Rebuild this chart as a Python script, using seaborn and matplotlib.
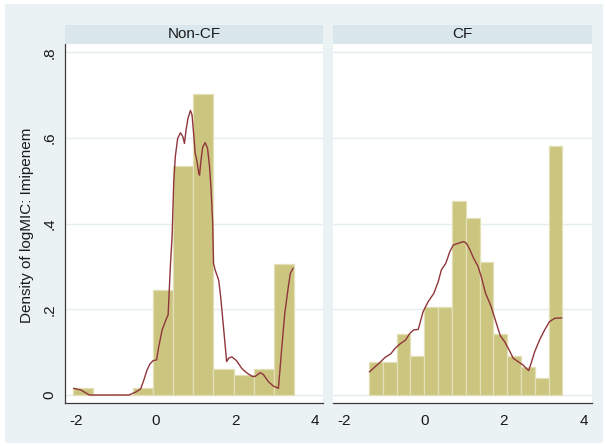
import numpy as np
import pandas as pd
import matplotlib
matplotlib.use("Agg")
import matplotlib.pyplot as plt
import seaborn as sns
from matplotlib.patches import Rectangle

# ---------------- data ----------------
panels = ["Non-CF", "CF"]

noncf_bin_start = -2.079
noncf_bin_width = 0.5041
noncf_density = [0.0156, 0.0, 0.0, 0.0156, 0.245, 0.534, 0.702, 0.0615, 0.046, 0.0615, 0.306]

cf_bin_start = -1.386
cf_bin_width = 0.3466
cf_density = [0.0778, 0.0778, 0.142, 0.091, 0.206, 0.206, 0.452, 0.412, 0.310,
              0.142, 0.091, 0.0646, 0.039, 0.581]

noncf_kde_x = [-2.065, -1.88, -1.67, -0.675, -0.50, -0.38, -0.30, -0.22, -0.15, -0.07,
               0.02, 0.075, 0.16, 0.27, 0.31, 0.37, 0.41, 0.45, 0.49, 0.55, 0.62,
               0.68, 0.72, 0.76, 0.81, 0.87, 0.91, 0.95, 0.99, 1.03, 1.08, 1.10,
               1.13, 1.18, 1.24, 1.30, 1.35, 1.39, 1.43, 1.45, 1.49, 1.58, 1.63,
               1.70, 1.78, 1.83, 1.91, 2.03, 2.16, 2.28, 2.41, 2.49, 2.62, 2.70,
               2.83, 2.95, 3.08, 3.12, 3.16, 3.24, 3.33, 3.38, 3.45]
noncf_kde_y = [0.0156, 0.0117, 0.0, 0.0, 0.007, 0.014, 0.035, 0.058, 0.072, 0.080,
               0.082, 0.113, 0.152, 0.179, 0.187, 0.307, 0.370, 0.494, 0.556, 0.599, 0.612,
               0.603, 0.587, 0.618, 0.646, 0.664, 0.654, 0.611, 0.564, 0.548, 0.517, 0.513,
               0.544, 0.579, 0.589, 0.576, 0.533, 0.478, 0.401, 0.307, 0.292, 0.268, 0.229,
               0.159, 0.078, 0.086, 0.089, 0.080, 0.062, 0.052, 0.044, 0.043, 0.052, 0.048,
               0.031, 0.021, 0.0156, 0.060, 0.105, 0.191, 0.253, 0.284, 0.296]

cf_kde_x = [-1.375, -1.23, -1.11, -0.98, -0.84, -0.73, -0.61, -0.47, -0.36, -0.26,
            -0.15, -0.03, 0.10, 0.24, 0.35, 0.43, 0.54, 0.64, 0.73, 0.85, 0.99,
            1.06, 1.14, 1.24, 1.35, 1.43, 1.54, 1.68, 1.81, 1.91, 2.02, 2.13,
            2.23, 2.35, 2.48, 2.56, 2.62, 2.68, 2.77, 2.89, 3.02, 3.14, 3.27, 3.45]
cf_kde_y = [0.054, 0.066, 0.076, 0.088, 0.096, 0.109, 0.119, 0.128, 0.144, 0.152,
            0.153, 0.194, 0.218, 0.237, 0.264, 0.292, 0.307, 0.334, 0.350, 0.354, 0.358,
            0.354, 0.340, 0.319, 0.300, 0.276, 0.237, 0.206, 0.167, 0.138, 0.124, 0.105,
            0.086, 0.078, 0.070, 0.062, 0.057, 0.074, 0.101, 0.128, 0.152, 0.171, 0.179, 0.180]

x_ticks = [-2, 0, 2, 4]
x_tick_labels = ["-2", "0", "2", "4"]
y_ticks = [0, 0.2, 0.4, 0.6, 0.8]
y_tick_labels = ["0", ".2", ".4", ".6", ".8"]
y_title = "Density of logMIC: Imipenem"

# ---------------- style ----------------
sns.set_style("white")
plt.rcParams["font.family"] = ["Liberation Sans", "DejaVu Sans"]
plt.rcParams["axes.unicode_minus"] = False

BG = "#EAF2F3"
STRIP = "#D9E6EB"
GRID = "#E4EDEF"
BAR = "#CCC580"
BAR_EDGE = "#E3DFB6"
LINE = "#8F353B"
TXT = "#1a1a1a"
AX = "#3a3a3a"
FS = 11

W, H = 606, 446
fig = plt.figure(figsize=(W / 100, H / 100), dpi=100, facecolor="white")


def rect(l, t, r, b):
    return [l / W, 1 - b / H, (r - l) / W, (b - t) / H]


fig.patches.append(Rectangle((5 / W, 1 - 443 / H), 598 / W, 439 / H,
                             transform=fig.transFigure, facecolor=BG,
                             edgecolor="none", zorder=-10))

XLIM = (-2.28, 4.20)
YLIM = (-(403 - 395) / 428.5, (395 - 43.5) / 428.5)

data = {
    "Non-CF": (noncf_bin_start, noncf_bin_width, noncf_density, noncf_kde_x, noncf_kde_y),
    "CF": (cf_bin_start, cf_bin_width, cf_density, cf_kde_x, cf_kde_y),
}
lefts = {"Non-CF": (65, 323), "CF": (333.3, 591.7)}

for i, name in enumerate(panels):
    start, width, dens, kx, ky = data[name]
    n = len(dens)
    edges = [float(start + width * k) for k in range(n + 1)]
    centers = [(edges[k] + edges[k + 1]) / 2 for k in range(n)]
    hist_df = pd.DataFrame({"x": centers, "w": dens})
    kde_df = pd.DataFrame({"x": kx, "y": ky})

    l, r = lefts[name]
    ax = fig.add_axes(rect(l, 43.5, r, 403))
    ax.set_facecolor("white")
    ax.set_axisbelow(True)
    for yv in y_ticks:
        ax.axhline(yv, color=GRID, lw=1.0, zorder=0)

    sns.histplot(data=hist_df, x="x", weights="w", bins=edges, stat="count",
                 color=BAR, edgecolor=BAR_EDGE, linewidth=0.9, alpha=1.0, ax=ax, zorder=2)
    sns.lineplot(data=kde_df, x="x", y="y", color=LINE, lw=1.0, ax=ax, zorder=3,
                 sort=False)

    ax.set_xlim(*XLIM)
    ax.set_ylim(*YLIM)
    ax.set_xlabel("")
    ax.set_ylabel("")
    ax.set_xticks(x_ticks)
    ax.set_xticklabels(x_tick_labels, fontsize=FS, color=TXT)
    ax.tick_params(axis="x", direction="out", length=5, width=0.8, color=AX, pad=3)
    for s in ["top", "right"]:
        ax.spines[s].set_visible(False)
    ax.spines["bottom"].set_color(AX)
    ax.spines["bottom"].set_linewidth(0.9)
    if i == 0:
        ax.spines["left"].set_color(AX)
        ax.spines["left"].set_linewidth(0.9)
        ax.set_yticks(y_ticks)
        ax.set_yticklabels(y_tick_labels, fontsize=FS, color=TXT)
        ax.tick_params(axis="y", direction="out", length=5, width=0.8, color=AX, pad=1)
        for lbl in ax.get_yticklabels():
            lbl.set_rotation(90)
            lbl.set_va("center")
            lbl.set_ha("right")
    else:
        ax.spines["left"].set_visible(False)
        ax.set_yticks(y_ticks)
        ax.set_yticklabels([])
        ax.tick_params(axis="y", length=0)

    # strip header
    sax = fig.add_axes(rect(l, 25, r, 43.5))
    sax.set_facecolor(STRIP)
    sax.set_xticks([])
    sax.set_yticks([])
    for s in sax.spines.values():
        s.set_visible(False)
    sax.text(0.5, 0.5, name, ha="center", va="center", fontsize=FS, color=TXT,
             transform=sax.transAxes)

fig.text(27 / W, 1 - 225 / H, y_title, rotation=90, ha="center", va="center",
         fontsize=FS, color=TXT)

fig.savefig("out.png", dpi=100, facecolor="white")
